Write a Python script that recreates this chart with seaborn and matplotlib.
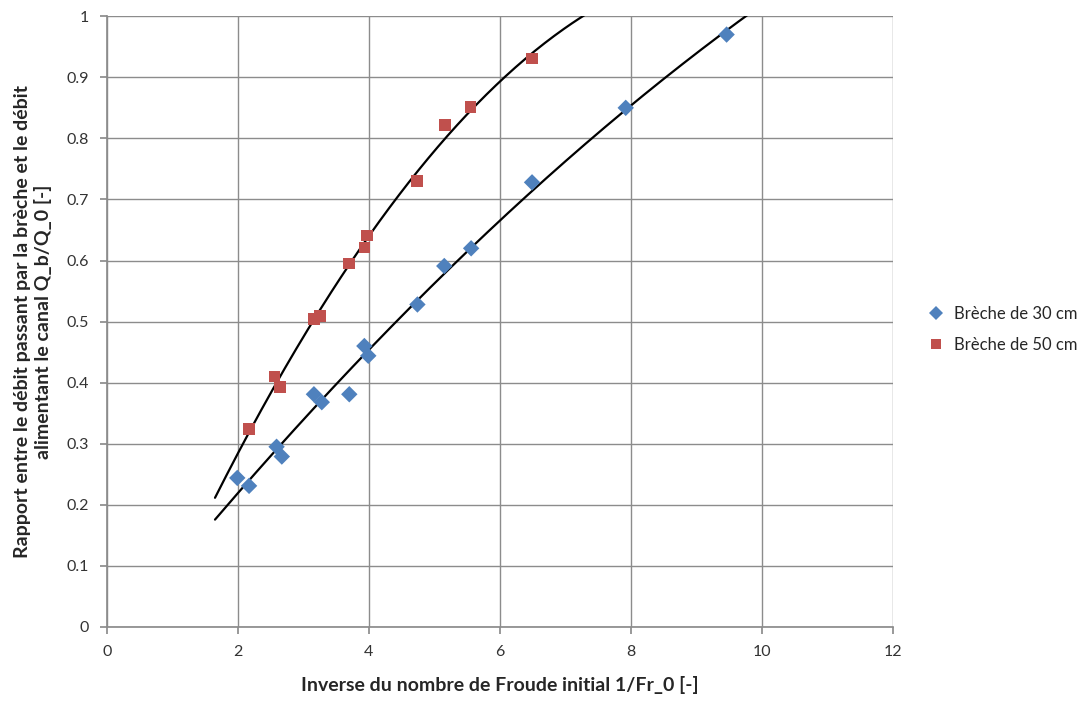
import numpy as np
import pandas as pd
import matplotlib
matplotlib.use("Agg")
import matplotlib.pyplot as plt
import seaborn as sns

# Measured points: inverse initial Froude number vs. discharge ratio
x_30 = [1.99, 2.17, 2.59, 2.67, 3.16, 3.28, 3.70, 3.93, 3.99, 4.74, 5.15, 5.56, 6.49, 7.92, 9.46]
y_30 = [0.244, 0.231, 0.295, 0.279, 0.381, 0.368, 0.381, 0.460, 0.444, 0.528, 0.591, 0.620, 0.728, 0.850, 0.970]

x_50 = [2.17, 2.56, 2.64, 3.16, 3.25, 3.70, 3.93, 3.97, 4.73, 5.16, 5.55, 6.49]
y_50 = [0.324, 0.410, 0.393, 0.504, 0.509, 0.595, 0.621, 0.641, 0.730, 0.822, 0.851, 0.931]

labels = ["Brèche de 30 cm", "Brèche de 50 cm"]
colors = ["#4F81BD", "#C0504D"]

df = pd.DataFrame({
    "x": x_30 + x_50,
    "y": y_30 + y_50,
    "serie": [labels[0]] * len(x_30) + [labels[1]] * len(x_50),
})

sns.set_theme(style="white")
plt.rcParams["font.family"] = ["Lato", "DejaVu Sans"]

fig = plt.figure(figsize=(10.91, 7.06), dpi=100)
ax = fig.add_axes([0.098, 0.112, 0.7205, 0.865])

# Quadratic trend lines
xs = np.linspace(1.65, 10.5, 300)
for xv, yv in [(x_30, y_30), (x_50, y_50)]:
    c = np.polyfit(xv, yv, 2)
    ax.plot(xs, np.polyval(c, xs), color="black", lw=1.6, zorder=2)

sns.scatterplot(data=df, x="x", y="y", hue="serie", style="serie",
                markers={labels[0]: "D", labels[1]: "s"},
                palette=dict(zip(labels, colors)),
                s=70, linewidth=0, ax=ax, zorder=3)

ax.set_xlim(0, 12)
ax.set_ylim(0, 1)
ax.set_xticks(np.arange(0, 13, 2))
ax.set_yticks(np.arange(0, 1.01, 0.1))
ax.set_yticklabels(["0", "0.1", "0.2", "0.3", "0.4", "0.5", "0.6", "0.7", "0.8", "0.9", "1"])
ax.grid(True, color="#8c8c8c", lw=1)
ax.set_axisbelow(True)
for s in ["top", "right"]:
    ax.spines[s].set_visible(False)
for s in ["left", "bottom"]:
    ax.spines[s].set_color("#8c8c8c")
ax.tick_params(axis="both", which="both", length=5, color="#8c8c8c",
               labelsize=11.5, labelcolor="#333333", direction="out",
               left=True, bottom=True, pad=8)

ax.set_xlabel("Inverse du nombre de Froude initial 1/Fr_0 [-]",
              fontsize=14, fontweight="bold", labelpad=12)
ax.set_ylabel("Rapport entre le débit passant par la brèche et le débit\nalimentant le canal Q_b/Q_0 [-]",
              fontsize=14, fontweight="bold", labelpad=10)

handles, _ = ax.get_legend_handles_labels()
ax.legend(handles=handles, labels=labels, loc="center left",
          bbox_to_anchor=(1.02, 0.487), frameon=False, fontsize=12,
          handletextpad=0.3, labelspacing=0.9, markerscale=0.8,
          handlelength=1.5)

fig.savefig("out.png", dpi=100)
